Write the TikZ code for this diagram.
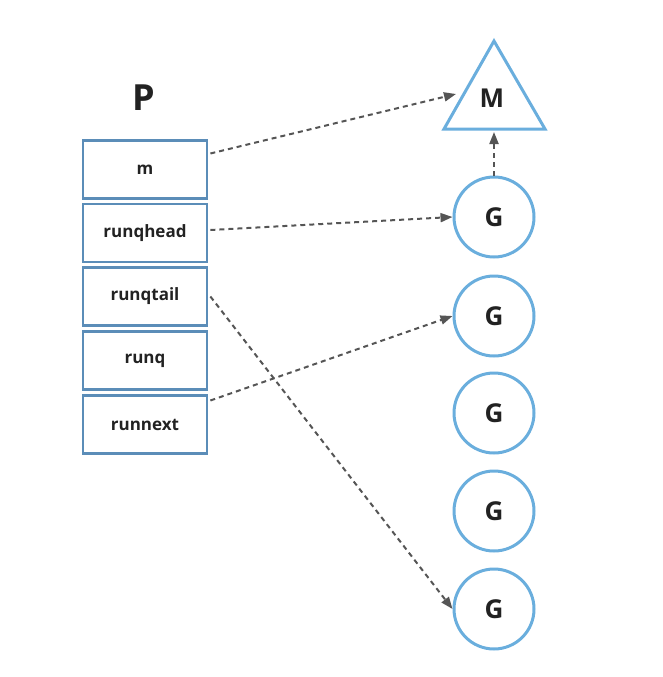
\documentclass[tikz,border=0pt]{standalone}
\usepackage{fontspec}
\setmainfont{Open Sans}
\usetikzlibrary{arrows.meta,shapes.geometric}
\definecolor{boxblue}{HTML}{5B8DB8}
\definecolor{gblue}{HTML}{6AAEDD}
\definecolor{arr}{HTML}{555555}
\definecolor{txt}{HTML}{222222}
\tikzset{
  fieldbox/.style={draw=boxblue,line width=2.8pt,minimum width=124pt,minimum height=58pt,inner sep=0pt,font=\bfseries\fontsize{17}{19}\selectfont,text=txt},
  gnode/.style={circle,draw=gblue,line width=3pt,minimum size=80pt,inner sep=0pt,font=\bfseries\fontsize{26}{28}\selectfont,text=txt},
  ptr/.style={draw=arr,line width=2pt,dash pattern=on 5pt off 4pt,-{Triangle[length=12pt,width=9pt]}}
}
\begin{document}
\begin{tikzpicture}[x=1pt,y=-1pt]
\useasboundingbox (0,0) rectangle (663,677);
\node[font=\bfseries\fontsize{36}{40}\selectfont,text=txt] (P) at (144,98) {P};
\node[fieldbox] (m) at (145,169.5) {m};
\node[fieldbox] (rh) at (145,233) {runqhead};
\node[fieldbox] (rt) at (145,296.5) {runqtail};
\node[fieldbox] (rq) at (145,360.5) {runq};
\node[fieldbox] (rn) at (145,424.5) {runnext};
\coordinate (t1) at (494,41);
\coordinate (t2) at (444,129);
\coordinate (t3) at (545,129);
\draw[gblue,line width=3pt,line join=miter] (t1)--(t2)--(t3)--cycle;
\node[font=\bfseries\fontsize{26}{28}\selectfont,text=txt] (M) at (492,98) {M};
\coordinate (mtip) at (456,94);
\coordinate (mbase) at (494,132);
\node[gnode] (g1) at (494,217) {G};
\node[gnode] (g2) at (494,316) {G};
\node[gnode] (g3) at (494,413) {G};
\node[gnode] (g4) at (494,511) {G};
\node[gnode] (g5) at (494,609) {G};
\draw[ptr] ([xshift=2pt,yshift=16pt]m.east) -- (mtip);
\draw[ptr] ([xshift=2pt,yshift=3pt]rh.east) -- (g1.west);
\draw[ptr] ([xshift=2pt]rt.east) -- (g5.west);
\draw[ptr] ([xshift=2pt,yshift=24pt]rn.east) -- (g2.west);
\draw[ptr] (g1.north) -- (mbase);
\end{tikzpicture}
\end{document}
